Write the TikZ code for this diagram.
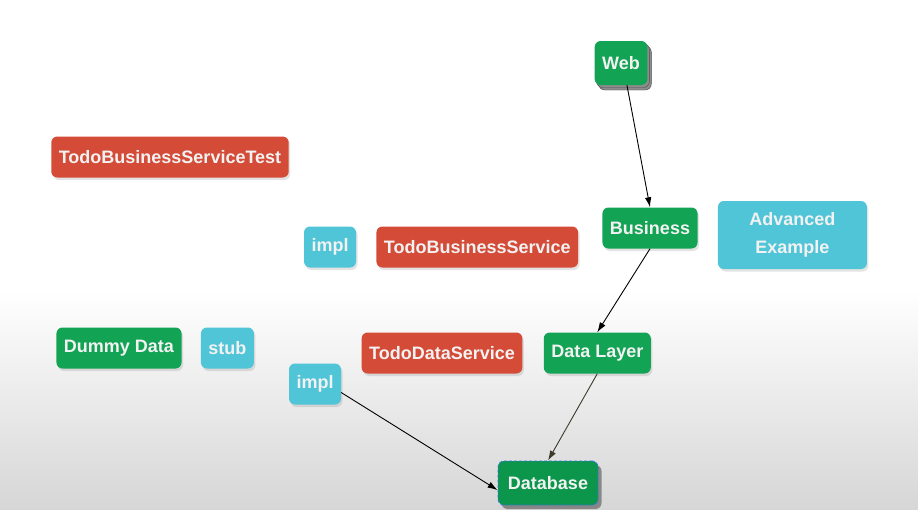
\documentclass[tikz,border=0pt]{standalone}
\usepackage{fontspec}
\setmainfont{Liberation Sans}
\usepackage{tikz}
\usetikzlibrary{arrows.meta, positioning, shadows}

\definecolor{layergreen}{RGB}{18,163,84}
\definecolor{dbgreen}{RGB}{12,150,76}
\definecolor{classred}{RGB}{212,76,56}
\definecolor{implcyan}{RGB}{80,197,216}
\definecolor{boxtext}{RGB}{242,242,242}

\tikzset{
  box/.style   = {rounded corners=6pt, inner xsep=7.5pt, minimum height=41pt,
                  text=boxtext, font=\fontsize{18}{21}\selectfont\bfseries,
                  drop shadow={shadow xshift=1.5pt, shadow yshift=-2.5pt, opacity=0.22}},
  gbox/.style  = {box, fill=layergreen},
  rbox/.style  = {box, fill=classred},
  cbox/.style  = {box, fill=implcyan},
  link/.style  = {draw, line width=0.9pt, -{Latex[length=10pt, width=6.5pt]}},
}

\begin{document}
\begin{tikzpicture}[x=1pt, y=1pt]

% background
\fill [white] (0,0) rectangle (918,-509);
\shade [top color=white, bottom color=black!16] (0,-290) rectangle (918,-509);
\useasboundingbox (0,0) rectangle (918,-509);

\node [gbox, minimum height=44pt, drop shadow={opacity=0},
       double copy shadow={shadow xshift=2pt, shadow yshift=-2.5pt, fill=black!45, draw=black!70}]
                                                  (web)      at (621,-63)  {Web};
\node [rbox                                     ] (test)     at (170,-157) {TodoBusinessServiceTest};
\node [gbox                                     ] (business) at (650,-228) {Business};
\node [cbox, right=20pt of business, yshift=-7pt, minimum width=149pt, minimum height=68pt,
       align=center, font=\fontsize{18}{28}\selectfont\bfseries]
                                                  (advanced) {Advanced\\Example};
\node [cbox                                     ] (bizimpl)  at (330,-247) {impl};
\node [rbox, right=20pt of bizimpl              ] (bizsvc)   {TodoBusinessService};
\node [gbox                                     ] (dummy)    at (119,-348) {Dummy Data};
\node [cbox, right=19pt of dummy                ] (stub)     {stub};
\node [rbox                                     ] (datasvc)  at (442,-353) {TodoDataService};
\node [gbox, right=21pt of datasvc              ] (datalayer){Data Layer};
\node [cbox                                     ] (dataimpl) at (315,-384) {impl};
\node [gbox, fill=dbgreen, minimum width=100pt, minimum height=44pt,
       draw=implcyan!60!blue, densely dashed, line width=0.8pt,
       drop shadow={shadow xshift=3.5pt, shadow yshift=-4pt, opacity=0.9}]
                                                  (database) at (548,-483) {Database};

\draw [link]                  (web.-75)         -- (business.north);
\draw [link]                  (business.south)  -- (datalayer.north);
\draw [link, black!75!olive]  (datalayer.south) -- (database.north);
\draw [link]                  (dataimpl.-18)    -- (database.188);

\end{tikzpicture}
\end{document}
